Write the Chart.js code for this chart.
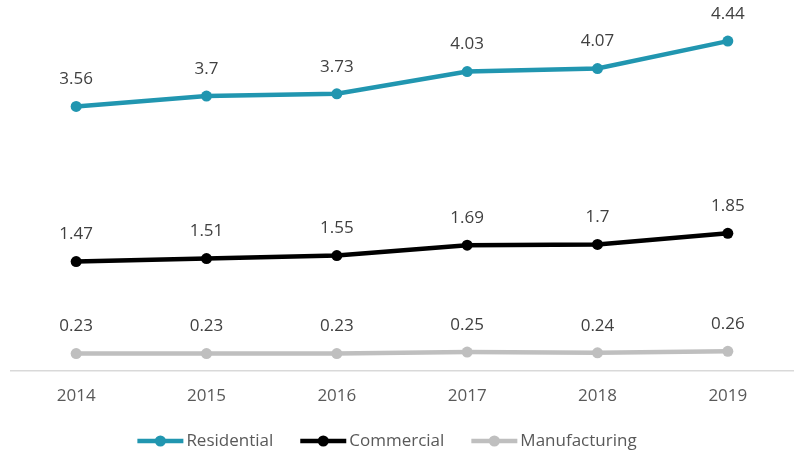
<!DOCTYPE html>
<html>
<head>
<meta charset="utf-8">
<script src="https://cdn.jsdelivr.net/npm/chart.js@4.4.1/dist/chart.umd.min.js"></script>
<style>
  html, body { margin: 0; padding: 0; background: #fff; }
  #wrap { width: 804px; height: 455px; }
</style>
</head>
<body>
<div id="wrap"><canvas id="chartjs-0" width="804" height="455"></canvas></div>
<script>
"use strict"

var years = ["2014", "2015", "2016", "2017", "2018", "2019"];
var residential = [3.56, 3.7, 3.73, 4.03, 4.07, 4.44];
var commercial = [1.47, 1.51, 1.55, 1.69, 1.7, 1.85];
var manufacturing = [0.23, 0.23, 0.23, 0.25, 0.24, 0.26];

var seriesNames = ["Residential", "Commercial", "Manufacturing"];
var seriesColors = ["#2196b0", "#000000", "#bfbfbf"];

var fontFamily = "'Open Sans', 'Noto Sans', sans-serif";

// value labels above every point
var valueLabels = {
    id: "valueLabels",
    afterDatasetsDraw: function (chart) {
        var ctx = chart.ctx;
        ctx.save();
        ctx.font = "17px " + fontFamily;
        ctx.fillStyle = "#404040";
        ctx.textAlign = "center";
        ctx.textBaseline = "middle";
        chart.data.datasets.forEach(function (ds, i) {
            var meta = chart.getDatasetMeta(i);
            meta.data.forEach(function (pt, j) {
                ctx.fillText(String(ds.data[j]), pt.x, pt.y - 27);
            });
        });
        ctx.restore();
    }
};

// line + dot legend along the bottom
var lineLegend = {
    id: "lineLegend",
    afterDraw: function (chart) {
        var ctx = chart.ctx;
        ctx.save();
        ctx.font = "17px " + fontFamily;
        var markW = 46, gapText = 3, gapItem = 27;
        var total = 0;
        seriesNames.forEach(function (name, i) {
            total += markW + gapText + ctx.measureText(name).width;
            if (i < seriesNames.length - 1) total += gapItem;
        });
        var x = (chart.chartArea.left + chart.chartArea.right) / 2 - 15 - total / 2;
        var y = 441;
        seriesNames.forEach(function (name, i) {
            ctx.strokeStyle = seriesColors[i];
            ctx.fillStyle = seriesColors[i];
            ctx.lineWidth = 4.5;
            ctx.beginPath();
            ctx.moveTo(x, y);
            ctx.lineTo(x + markW, y);
            ctx.stroke();
            ctx.beginPath();
            ctx.arc(x + markW / 2, y, 5.5, 0, Math.PI * 2);
            ctx.fill();
            x += markW + gapText;
            ctx.fillStyle = "#595959";
            ctx.textAlign = "left";
            ctx.textBaseline = "middle";
            ctx.fillText(name, x, y);
            x += ctx.measureText(name).width + gapItem;
        });
        ctx.restore();
    }
};

function makeSet(label, data, color) {
    return {
        label: label,
        data: data,
        borderColor: color,
        backgroundColor: color,
        borderWidth: 4.5,
        pointRadius: 5.5,
        pointHoverRadius: 5.5,
        pointBorderWidth: 0,
        tension: 0,
        fill: false,
        clip: false
    };
}

var ctx0 = document.getElementById("chartjs-0");
var myChart = new Chart(ctx0, {
    type: "line",
    data: {
        labels: years,
        datasets: [
            makeSet(seriesNames[0], residential, seriesColors[0]),
            makeSet(seriesNames[1], commercial, seriesColors[1]),
            makeSet(seriesNames[2], manufacturing, seriesColors[2])
        ]
    },
    options: {
        responsive: false,
        animation: false,
        layout: { padding: { left: 11, right: 11, top: 0, bottom: 34 } },
        plugins: {
            legend: { display: false },
            tooltip: { enabled: false }
        },
        scales: {
            x: {
                offset: true,
                grid: { display: false, drawTicks: false },
                border: { display: true, color: "#d9d9d9", width: 1.5 },
                ticks: {
                    color: "#595959",
                    font: { family: fontFamily, size: 17 },
                    padding: 15,
                    maxRotation: 0
                }
            },
            y: {
                display: false,
                min: 0,
                max: 4.92
            }
        }
    },
    plugins: [valueLabels, lineLegend]
});
</script>
</body>
</html>
